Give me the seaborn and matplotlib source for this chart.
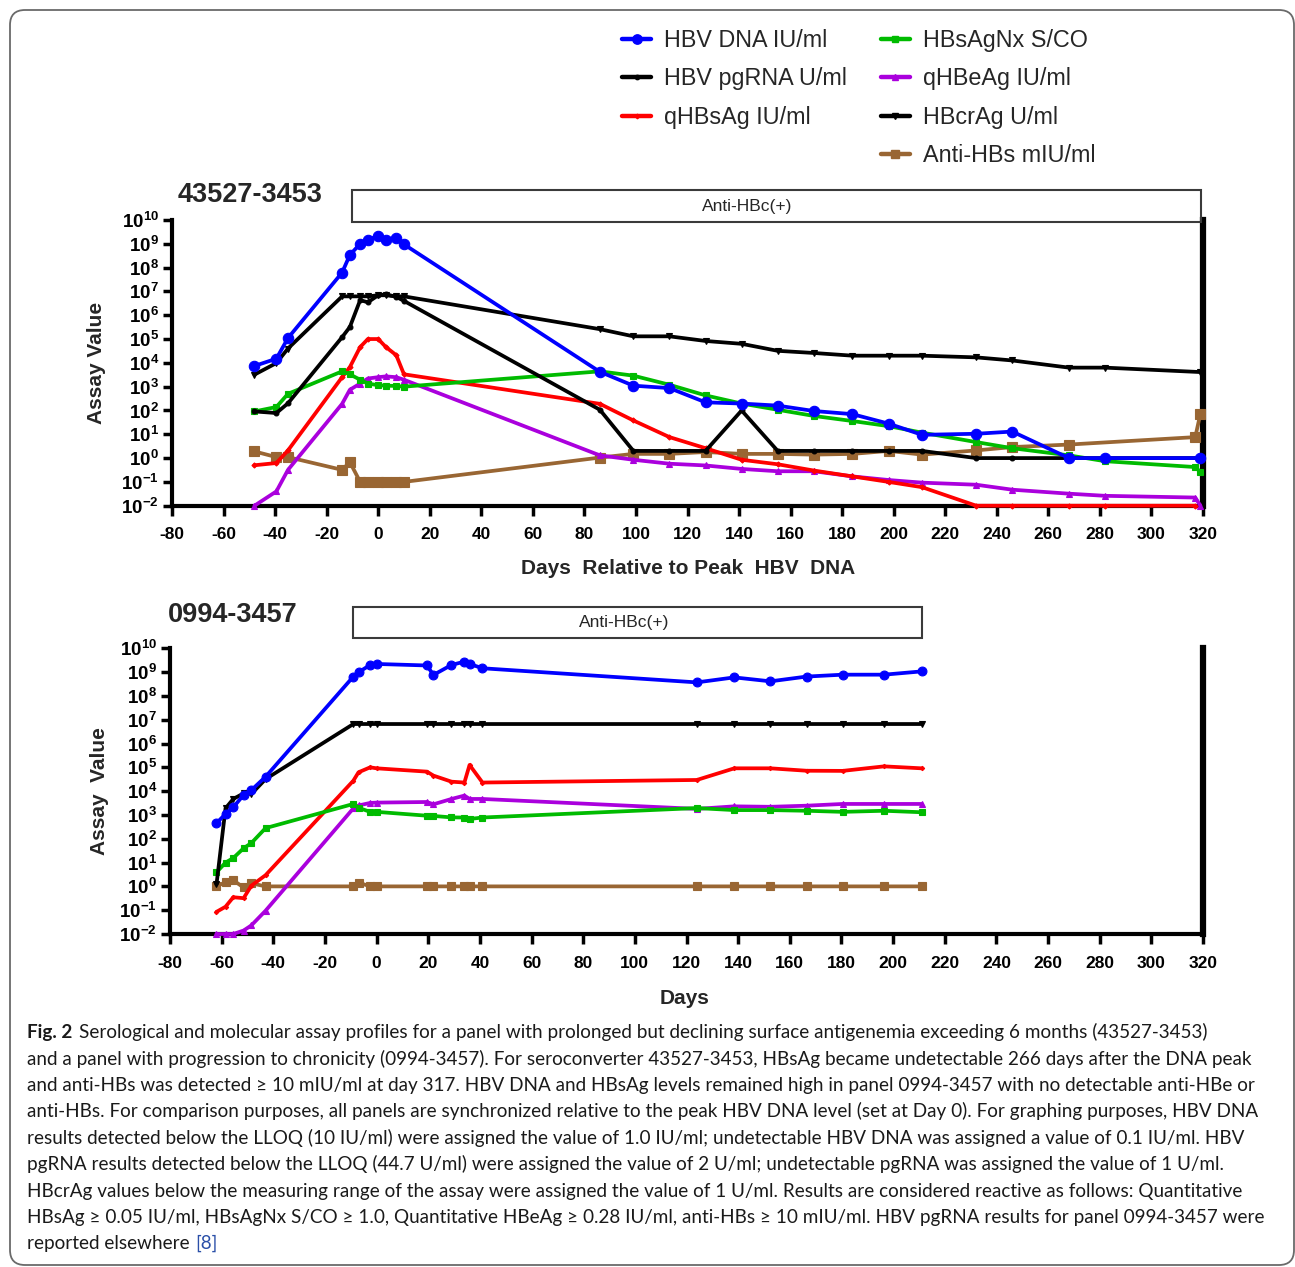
import matplotlib
matplotlib.use("Agg")
import matplotlib.pyplot as plt
import matplotlib.transforms as mtransforms
from matplotlib.lines import Line2D
from matplotlib.patches import Rectangle, FancyBboxPatch
from matplotlib.text import Annotation
from matplotlib.ticker import NullLocator
from matplotlib import font_manager as fm
import seaborn as sns

# ---------------------------------------------------------------- data
legend_labels = ["HBV DNA IU/ml", "HBV pgRNA U/ml", "qHBsAg IU/ml",
                 "HBsAgNx S/CO", "qHBeAg IU/ml", "HBcrAg U/ml", "Anti-HBs mIU/ml"]
top_title = "43527-3453"
bottom_title = "0994-3457"
box_label = "Anti-HBc(+)"
top_xlabel = "Days  Relative to Peak  HBV  DNA"
bottom_xlabel = "Days"
top_ylabel = "Assay Value"
bottom_ylabel = "Assay  Value"
x_ticks = list(range(-80, 321, 20))
y_exponents = list(range(-2, 11))

# panel 43527-3453
top_days = [-48, -39.5, -35, -14, -11, -7, -4, 0, 3, 7, 10, 86, 99, 113, 127,
            141, 155, 169, 184, 198, 211, 232, 246, 268, 282, 319]
top_days_red = [-48, -39.5, -35, -14, -11, -7, -4, 0, 3, 7, 10, 86, 99, 113, 127,
                141, 155, 169, 184, 198, 211, 232, 246, 268, 282, 317]
top_days_long = [-48, -39.5, -35, -14, -11, -7, -4, 0, 3, 7, 10, 86, 99, 113, 127,
                 141, 155, 169, 184, 198, 211, 232, 246, 268, 282, 317, 319]
top_days_anti = [-48, -39.5, -35, -14, -11, -7, -4, 0, 3, 7, 10, 86, 99, 113, 127,
                 141, 155, 169, 184, 198, 211, 232, 246, 268, 317, 319]

top_dna = [7.4e3, 1.5e4, 1.1e5, 6.2e7, 3.4e8, 1.0e9, 1.5e9, 2.1e9, 1.5e9, 1.8e9,
           9.5e8, 4.2e3, 1.1e3, 870, 220, 195, 160, 95, 70, 28, 9.5, 10.5, 13, 1, 1, 1]
top_pgrna = [91, 78, 200, 1.2e5, 3.2e5, 4.3e6, 3.5e6, 6.9e6, 7.6e6, 5.9e6, 4.0e6,
             107, 2, 2, 2, 100, 2, 2, 2, 2, 2, 1, 1, 1, 1, 1]
top_qhbsag = [0.5, 0.62, 2.1, 2.5e3, 6.6e3, 4.6e4, 1.0e5, 1.0e5, 4.6e4, 2.1e4,
              3.3e3, 190, 38, 7.6, 2.6, 0.85, 0.55, 0.3, 0.17, 0.1, 0.06,
              0.01, 0.01, 0.01, 0.01, 0.01]
top_hbsagnx = [91, 140, 500, 4.4e3, 3.3e3, 1.95e3, 1.35e3, 1.15e3, 1.1e3, 1.07e3,
               1.0e3, 4.4e3, 2.9e3, 1.2e3, 430, 195, 107, 59, 36, 22, 11.7, 4.7,
               2.6, 1.3, 0.74, 0.42, 0.26]
top_qhbeag = [0.01, 0.04, 0.32, 190, 740, 1.35e3, 2.2e3, 2.5e3, 2.7e3, 2.5e3,
              1.95e3, 1.3, 0.85, 0.58, 0.49, 0.35, 0.28, 0.28, 0.17, 0.12, 0.093,
              0.076, 0.047, 0.032, 0.026, 0.022, 0.01]
top_hbcrag = [3.2e3, 9.8e3, 4.0e4, 6.2e6, 6.2e6, 6.2e6, 6.2e6, 6.9e6, 6.9e6, 6.2e6,
              6.2e6, 2.6e5, 1.3e5, 1.3e5, 8.3e4, 6.3e4, 3.2e4, 2.6e4, 2.0e4, 2.0e4,
              2.0e4, 1.7e4, 1.26e4, 6.3e3, 6.3e3, 4.1e3]
top_antihbs = [1.9, 1.1, 1.1, 0.32, 0.68, 0.1, 0.1, 0.1, 0.1, 0.1, 0.1, 1.05, 1.5,
               1.5, 1.8, 1.5, 1.5, 1.4, 1.5, 2.0, 1.4, 2.1, 2.9, 3.7, 7.6, 74]

# panel 0994-3457
bot_days = [-62, -58.5, -55.5, -51.5, -48.5, -43, -9, -7, -2.5, 0, 19.5, 22, 29,
            34, 36, 41, 124, 138.5, 152.5, 166.5, 180.5, 196.5, 211]
bot_dna = [450, 1.1e3, 2.1e3, 6.9e3, 1.1e4, 4.0e4, 6.5e8, 9.8e8, 2.0e9, 2.2e9,
           1.9e9, 7.6e8, 2.0e9, 2.75e9, 2.2e9, 1.45e9, 3.7e8, 6.0e8, 4.1e8, 6.5e8,
           7.8e8, 7.8e8, 1.07e9]
bot_qhbsag = [0.085, 0.14, 0.35, 0.32, 1.07, 2.95, 2.75e4, 6.2e4, 1.0e5, 9.1e4,
              6.6e4, 4.5e4, 2.5e4, 2.3e4, 1.26e5, 2.3e4, 2.95e4, 9.1e4, 9.1e4,
              7.2e4, 7.1e4, 1.1e5, 9.1e4]
bot_hbsagnx = [3.9, 10, 15.5, 40, 66, 280, 2.9e3, 2.0e3, 1.35e3, 1.35e3, 930, 910,
               790, 780, 680, 780, 1.95e3, 1.6e3, 1.6e3, 1.5e3, 1.35e3, 1.5e3, 1.3e3]
bot_qhbeag = [0.01, 0.01, 0.01, 0.014, 0.023, 0.095, 1.9e3, 2.5e3, 3.2e3, 3.3e3,
              3.5e3, 2.8e3, 4.7e3, 6.5e3, 4.7e3, 4.7e3, 1.8e3, 2.3e3, 2.2e3, 2.45e3,
              2.9e3, 2.9e3, 2.9e3]
bot_hbcrag = [1.2, 1.9e3, 4.7e3, 8.1e3, 7.6e3, 3.2e4, 6.6e6, 6.6e6, 6.6e6, 6.6e6,
              6.6e6, 6.6e6, 6.6e6, 6.6e6, 6.6e6, 6.6e6, 6.6e6, 6.6e6, 6.6e6, 6.6e6,
              6.6e6, 6.6e6, 6.6e6]
bot_antihbs = [1.0, 1.5, 1.8, 0.9, 1.35, 1.0, 1.0, 1.45, 1.0, 1.0, 1.0, 1.0, 1.0,
               1.0, 1.0, 1.0, 1.0, 1.0, 1.0, 1.0, 1.0, 1.0, 1.0]

caption_bold = "Fig. 2"
caption_lines = [
    "Serological and molecular assay profiles for a panel with prolonged but declining surface antigenemia exceeding 6 months (43527-3453)",
    "and a panel with progression to chronicity (0994-3457). For seroconverter 43527-3453, HBsAg became undetectable 266 days after the DNA peak",
    "and anti-HBs was detected \u2265 10 mIU/ml at day 317. HBV DNA and HBsAg levels remained high in panel 0994-3457 with no detectable anti-HBe or",
    "anti-HBs. For comparison purposes, all panels are synchronized relative to the peak HBV DNA level (set at Day 0). For graphing purposes, HBV DNA",
    "results detected below the LLOQ (10 IU/ml) were assigned the value of 1.0 IU/ml; undetectable HBV DNA was assigned a value of 0.1 IU/ml. HBV",
    "pgRNA results detected below the LLOQ (44.7 U/ml) were assigned the value of 2 U/ml; undetectable pgRNA was assigned the value of 1 U/ml.",
    "HBcrAg values below the measuring range of the assay were assigned the value of 1 U/ml. Results are considered reactive as follows: Quantitative",
    "HBsAg \u2265 0.05 IU/ml, HBsAgNx S/CO \u2265 1.0, Quantitative HBeAg \u2265 0.28 IU/ml, anti-HBs \u2265 10 mIU/ml. HBV pgRNA results for panel 0994-3457 were",
    "reported elsewhere",
]
caption_ref = "[8]"

# ---------------------------------------------------------------- styles
styles = {
    "HBV DNA IU/ml":   dict(color="#0000FF", marker="o", ms=7.5, z=9),
    "HBV pgRNA U/ml":  dict(color="#000000", marker="o", ms=3.5, z=8),
    "qHBsAg IU/ml":    dict(color="#FF0000", marker="D", ms=2.6, z=6),
    "HBsAgNx S/CO":    dict(color="#00BB00", marker="s", ms=5.0, z=7),
    "qHBeAg IU/ml":    dict(color="#AA00DD", marker="^", ms=4.5, z=5),
    "HBcrAg U/ml":     dict(color="#000000", marker="v", ms=4.5, z=8),
    "Anti-HBs mIU/ml": dict(color="#996633", marker="s", ms=6.5, z=4),
}


def has_font(name):
    try:
        fm.findfont(fm.FontProperties(family=name), fallback_to_default=False)
        return True
    except Exception:
        return False


sns.set_style("ticks")
plt.rcParams["font.family"] = ["Liberation Sans", "DejaVu Sans"]
plt.rcParams["mathtext.fontset"] = "custom"
plt.rcParams["mathtext.rm"] = "Liberation Sans"
plt.rcParams["mathtext.bf"] = "Liberation Sans:bold"
plt.rcParams["mathtext.it"] = "Liberation Sans:italic"

NARROW = "Liberation Sans Narrow" if has_font("Liberation Sans Narrow") else None
CAPFONT = "Lato" if has_font("Lato") else "Open Sans"
CAPFAM = [CAPFONT, "Noto Sans", "DejaVu Sans"]

W, H = 1295, 1267
fig = plt.figure(figsize=(W / 100, H / 100), dpi=100)
fig.patch.set_facecolor("white")

# outer rounded frame
frame = FancyBboxPatch((0.10, 0.02), 12.84, 12.55,
                       boxstyle="round,pad=0,rounding_size=0.15",
                       transform=fig.dpi_scale_trans, fill=False,
                       ec="#6a6a6a", lw=1.3, zorder=0)
fig.patches.append(frame)


def fig_axes(left_px, right_px, top_px, bottom_px):
    return fig.add_axes([left_px / W, 1 - bottom_px / H,
                         (right_px - left_px) / W, (bottom_px - top_px) / H])


ax1 = fig_axes(172, 1203, 220, 505.7)
ax2 = fig_axes(170, 1203, 648.3, 934)

top_series = [
    ("Anti-HBs mIU/ml", top_days_anti, top_antihbs),
    ("qHBeAg IU/ml", top_days_long, top_qhbeag),
    ("qHBsAg IU/ml", top_days_red, top_qhbsag),
    ("HBsAgNx S/CO", top_days_long, top_hbsagnx),
    ("HBcrAg U/ml", top_days, top_hbcrag),
    ("HBV pgRNA U/ml", top_days, top_pgrna),
    ("HBV DNA IU/ml", top_days, top_dna),
]
bot_series = [
    ("Anti-HBs mIU/ml", bot_days, bot_antihbs),
    ("qHBeAg IU/ml", bot_days, bot_qhbeag),
    ("qHBsAg IU/ml", bot_days, bot_qhbsag),
    ("HBsAgNx S/CO", bot_days, bot_hbsagnx),
    ("HBcrAg U/ml", bot_days, bot_hbcrag),
    ("HBV DNA IU/ml", bot_days, bot_dna),
]

tick_font = dict(family=[NARROW, "Liberation Sans"] if NARROW else ["Liberation Sans"],
                 weight="bold", size=14.5 if NARROW else 12.5)
ylab_texts = [r"$\mathbf{10^{%d}}$" % e for e in y_exponents]


def style_panel(ax, series, box_x, box_y, text_x, title, title_xy, xlabel, xlab_xy,
                ylabel, ylab_xy, ms_scale=1.0):
    ax.set_yscale("log")
    for key, days, vals in series:
        st = styles[key]
        sns.lineplot(x=days, y=vals, ax=ax, color=st["color"], marker=st["marker"],
                     markersize=st["ms"] * ms_scale, markeredgecolor=st["color"],
                     markeredgewidth=0.8, linewidth=2.7, estimator=None,
                     sort=False, legend=False, clip_on=False, zorder=st["z"])
    ax.set_xlim(x_ticks[0], x_ticks[-1])
    ax.set_ylim(10.0 ** y_exponents[0], 10.0 ** y_exponents[-1])
    ax.set_xticks(x_ticks)
    ax.set_xticklabels([str(t) for t in x_ticks], fontdict=tick_font)
    ax.set_yticks([10.0 ** e for e in y_exponents])
    ax.set_yticklabels(ylab_texts, fontsize=13.5)
    ax.yaxis.set_minor_locator(NullLocator())
    ax.xaxis.set_minor_locator(NullLocator())
    ax.spines["top"].set_visible(False)
    ax.spines["left"].set_linewidth(3)
    ax.spines["bottom"].set_linewidth(3)
    ax.spines["right"].set_linewidth(4.5)
    for s in ax.spines.values():
        s.set_color("black")
        s.set_capstyle("projecting")
    ax.tick_params(axis="x", direction="out", length=7.5, width=2.5, pad=8,
                   colors="black")
    ax.tick_params(axis="y", direction="out", length=6.5, width=2.5, pad=3,
                   colors="black")
    ax.tick_params(axis="y", which="minor", length=0)
    ax.tick_params(right=False, top=False)
    ax.set_facecolor("none")
    ax.grid(False)

    # Anti-HBc(+) box
    tr = mtransforms.blended_transform_factory(ax.transData, ax.transAxes)
    rect = Rectangle((box_x[0], box_y[0]), box_x[1] - box_x[0], box_y[1] - box_y[0],
                     transform=tr, fill=False, ec="#3a3a3a", lw=1.5, clip_on=False,
                     zorder=3)
    ax.add_patch(rect)
    ax.text(text_x, (box_y[0] + box_y[1]) / 2, box_label,
            transform=tr, ha="center", va="center", fontsize=12.5)

    ax.text(title_xy[0], title_xy[1], title, transform=ax.transAxes, ha="left",
            va="center", fontsize=19.5, fontweight="bold")

    lab_font = dict(family=[NARROW, "Liberation Sans"] if NARROW else ["Liberation Sans"],
                    weight="bold", size=17.3 if NARROW else 15)
    ax.set_xlabel(xlabel, fontdict=lab_font)
    ax.xaxis.label.set_verticalalignment("center")
    ax.xaxis.set_label_coords(*xlab_xy)
    ax.set_ylabel(ylabel, fontdict=lab_font)
    ax.yaxis.label.set_verticalalignment("center")
    ax.yaxis.set_label_coords(*ylab_xy)


style_panel(ax1, top_series, (-10, 319.4), (0.993, 1.105), 143, top_title,
            ((178 - 172) / 1031, (505.7 - 195) / 285.7), top_xlabel,
            ((688 - 172) / 1031, (505.7 - 569) / 285.7), top_ylabel,
            ((97 - 172) / 1031, 0.5))
style_panel(ax2, bot_series, (-9, 211.2), (1.036, 1.145), 96, bottom_title,
            ((168 - 170) / 1033, (934 - 615) / 285.7), bottom_xlabel,
            ((685 - 170) / 1033, (934 - 998) / 285.7), bottom_ylabel,
            ((100 - 170) / 1033, 0.5), ms_scale=0.85)

# legend
handles = []
labels = []
order = ["HBV DNA IU/ml", "HBV pgRNA U/ml", "qHBsAg IU/ml", None,
         "HBsAgNx S/CO", "qHBeAg IU/ml", "HBcrAg U/ml", "Anti-HBs mIU/ml"]
for key in order:
    if key is None:
        handles.append(Line2D([], [], linestyle="none"))
        labels.append("")
    else:
        st = styles[key]
        handles.append(Line2D([], [], color=st["color"], lw=3.2, marker=st["marker"],
                              markersize=st["ms"] * 0.9, markeredgecolor=st["color"]))
        labels.append(key)
fig.legend(handles, labels, ncol=2, loc="upper left",
           bbox_to_anchor=(622 / W, 1 - 29 / H), frameon=False,
           prop=dict(family="Liberation Sans", size=16.8),
           handlelength=1.25, handletextpad=0.55, columnspacing=1.45,
           labelspacing=0.66, borderpad=0, borderaxespad=0)

# caption
base0 = 1038.3
step = 26.4
cap_x = 27
cap_texts = []
fig_bold = fig.text(cap_x / W, 1 - base0 / H, caption_bold, ha="left",
                    va="baseline", fontsize=14, fontweight="bold",
                    family=CAPFAM, color="#1a1a1a")
first = Annotation(caption_lines[0], xy=(1, 0), xycoords=fig_bold,
                   xytext=(7, 0), textcoords="offset pixels", ha="left",
                   va="bottom", fontsize=14, family=CAPFAM, color="#1a1a1a")
fig.add_artist(first)
cap_texts.extend([fig_bold, first])
for i, line in enumerate(caption_lines[1:], start=1):
    t = fig.text(cap_x / W, 1 - (base0 + step * i) / H, line, ha="left",
                 va="baseline", fontsize=14, family=CAPFAM, color="#1a1a1a")
    cap_texts.append(t)
ref = Annotation(caption_ref, xy=(1, 0), xycoords=cap_texts[-1],
                 xytext=(6, 0), textcoords="offset pixels", ha="left",
                 va="bottom", fontsize=14, family=CAPFAM, color="#2a4fa8")
fig.add_artist(ref)
cap_texts.append(ref)

# fit caption size so full lines 2-8 span roughly the reference widths
ref_line_ends = [1255, 1258, 1257, 1257, 1237, 1256, 1235]
fig.canvas.draw()
rend = fig.canvas.get_renderer()
measured = sum(cap_texts[k].get_window_extent(rend).width for k in range(2, 9))
target = sum(e - cap_x for e in ref_line_ends)
scale = target / measured
for t in cap_texts:
    t.set_fontsize(t.get_fontsize() * scale)

fig.savefig("out.png", dpi=100, facecolor="white")
